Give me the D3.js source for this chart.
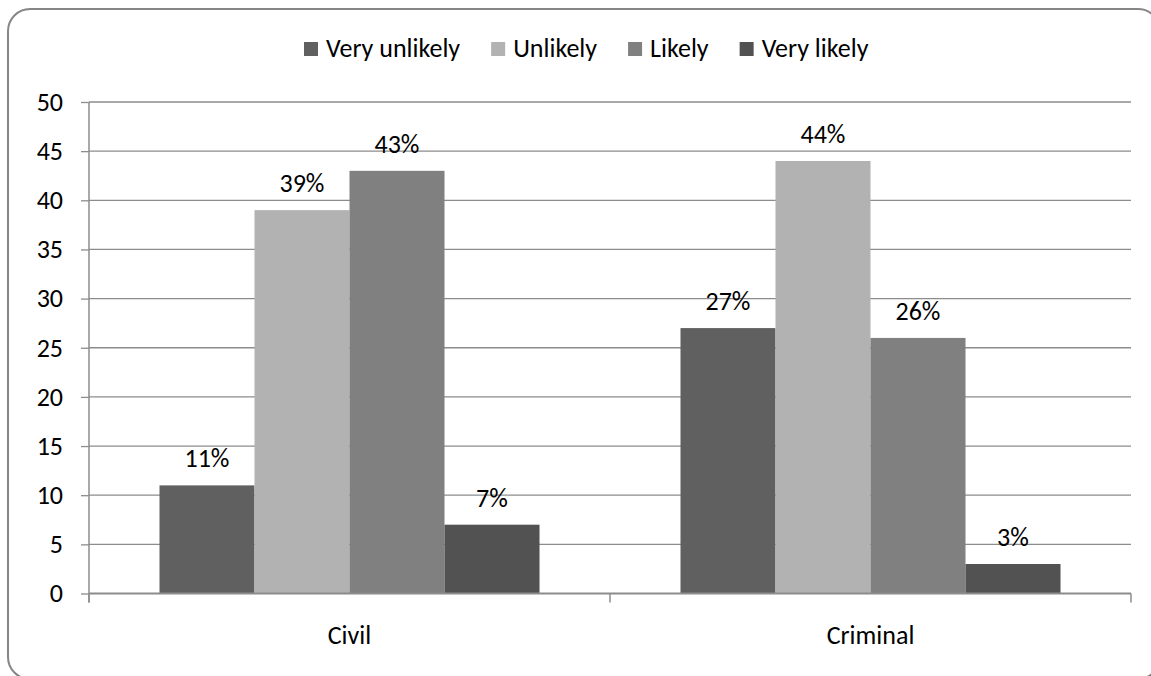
<!DOCTYPE html>
<html>
<head>
<meta charset="utf-8">
<script src="https://cdn.jsdelivr.net/npm/d3@7"></script>
<style>
  html, body { margin: 0; padding: 0; background: #fff; }
  svg { display: block; }
  text { font-family: Carlito, Calibri, Lato, "Open Sans", sans-serif; fill: #000; }
</style>
</head>
<body>
<svg id="chart" width="1151" height="676"></svg>
<script>
const categories = ["Civil", "Criminal"];
const seriesNames = ["Very unlikely", "Unlikely", "Likely", "Very likely"];
const seriesColors = ["#606060", "#b2b2b2", "#808080", "#525252"];
const veryUnlikely = [11, 27];
const unlikely = [39, 44];
const likely = [43, 26];
const veryLikely = [7, 3];
const yTicks = [0, 5, 10, 15, 20, 25, 30, 35, 40, 45, 50];

const seriesValues = [veryUnlikely, unlikely, likely, veryLikely];
const FS = "26px";

const svg = d3.select("#chart");
const W = 1151, H = 676;
const margin = { left: 89, right: W - 1131, top: 102, bottom: H - 593.5 };
const plotW = W - margin.left - margin.right;
const plotH = H - margin.top - margin.bottom;

// outer rounded border
svg.append("rect")
  .attr("x", 8).attr("y", 9)
  .attr("width", 1152).attr("height", 670)
  .attr("rx", 22).attr("ry", 22)
  .attr("fill", "#fff")
  .attr("stroke", "#868686")
  .attr("stroke-width", 2);

const g = svg.append("g").attr("transform", `translate(${margin.left},${margin.top})`);

const x0 = d3.scaleBand().domain(categories).range([0, plotW]).paddingInner(0).paddingOuter(0);
const x1 = d3.scaleBand().domain(seriesNames).range([0, x0.bandwidth()]).paddingInner(0).paddingOuter(0.742);
const y = d3.scaleLinear().domain([0, 50]).range([plotH, 0]);

// gridlines
g.append("g").selectAll("line")
  .data(yTicks.filter(d => d > 0))
  .join("line")
  .attr("x1", 0).attr("x2", plotW)
  .attr("y1", d => y(d)).attr("y2", d => y(d))
  .attr("stroke", "#8c8c8c").attr("stroke-width", 1.3);

// y axis
const yAxis = g.append("g")
  .call(d3.axisLeft(y).tickValues(yTicks).tickSize(8).tickPadding(18).tickSizeOuter(0));
yAxis.select(".domain").remove();
yAxis.selectAll(".tick line").attr("stroke", "#8c8c8c").attr("stroke-width", 1.3);
yAxis.selectAll(".tick text")
  .style("font-family", "Carlito, Calibri, Lato, 'Open Sans', sans-serif")
  .style("font-size", FS).attr("fill", "#000");
g.append("line")
  .attr("x1", 0).attr("x2", 0).attr("y1", 0).attr("y2", plotH + 9)
  .attr("stroke", "#8c8c8c").attr("stroke-width", 1.5);

// bars
const groups = g.append("g").selectAll("g")
  .data(categories)
  .join("g")
  .attr("transform", d => `translate(${x0(d)},0)`);

groups.selectAll("rect")
  .data((c, ci) => seriesNames.map((s, si) => ({ s, si, v: seriesValues[si][ci] })))
  .join("rect")
  .attr("x", d => x1(d.s))
  .attr("width", x1.bandwidth())
  .attr("y", d => y(d.v))
  .attr("height", d => plotH - y(d.v))
  .attr("fill", d => seriesColors[d.si]);

groups.selectAll("text.lbl")
  .data((c, ci) => seriesNames.map((s, si) => ({ s, si, v: seriesValues[si][ci] })))
  .join("text")
  .attr("class", "lbl")
  .attr("x", d => x1(d.s) + x1.bandwidth() / 2)
  .attr("y", d => y(d.v) - 18)
  .attr("text-anchor", "middle")
  .style("font-size", FS)
  .text(d => d.v + "%");

// x axis baseline and ticks
g.append("line")
  .attr("x1", 0).attr("x2", plotW).attr("y1", plotH).attr("y2", plotH)
  .attr("stroke", "#8c8c8c").attr("stroke-width", 2);
const xTickPos = [0, ...categories.map(c => x0(c) + x0.bandwidth())];
g.append("g").selectAll("line")
  .data(xTickPos)
  .join("line")
  .attr("x1", d => d).attr("x2", d => d)
  .attr("y1", plotH).attr("y2", plotH + 9)
  .attr("stroke", "#8c8c8c").attr("stroke-width", 1.5);

g.append("g").selectAll("text")
  .data(categories)
  .join("text")
  .attr("x", d => x0(d) + x0.bandwidth() / 2)
  .attr("y", plotH + 50.5)
  .attr("text-anchor", "middle")
  .style("font-size", FS)
  .text(d => d);

// legend
const legend = svg.append("g");
let lx = 304;
seriesNames.forEach((name, i) => {
  legend.append("rect")
    .attr("x", lx).attr("y", 42).attr("width", 14).attr("height", 14)
    .attr("fill", seriesColors[i]);
  const t = legend.append("text")
    .attr("x", lx + 22).attr("y", 57)
    .style("font-size", FS)
    .text(name);
  lx += 22 + t.node().getComputedTextLength() + 31;
});
</script>
</body>
</html>
